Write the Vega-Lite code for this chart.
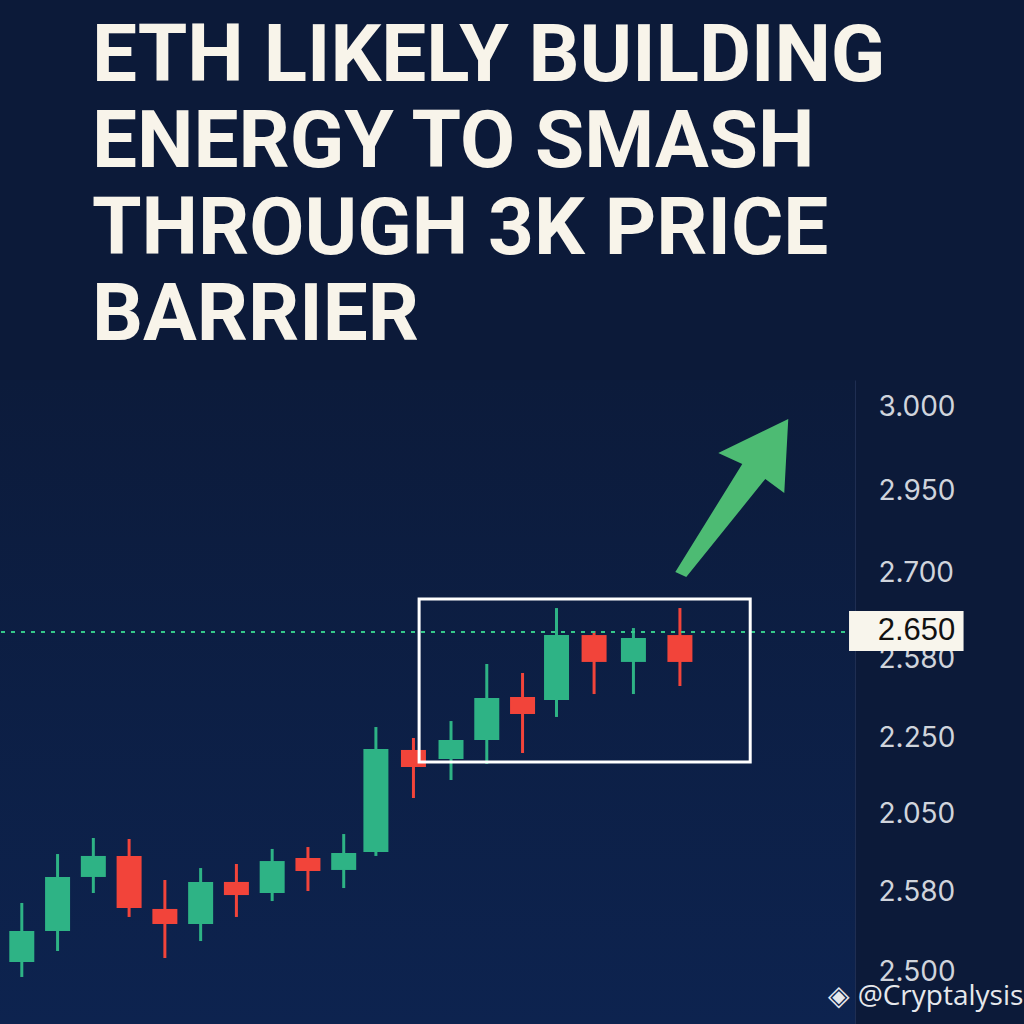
{
  "$schema": "https://vega.github.io/schema/vega-lite/v6.json",
  "autosize": "none",
  "width": 855,
  "height": 644,
  "padding": {"left": 0, "top": 380, "right": 169, "bottom": 0},
  "background": "#0c1a39",
  "title": {
    "text": ["ETH LIKELY BUILDING", "ENERGY TO SMASH", "THROUGH 3K PRICE", "BARRIER"],
    "anchor": "start",
    "frame": "group",
    "orient": "top",
    "dx": 92,
    "offset": 23,
    "font": "Roboto",
    "fontWeight": "bold",
    "fontSize": 80,
    "lineHeight": 86.5,
    "color": "#f8f4ea"
  },
  "config": {
    "view": {"stroke": null},
    "axis": {"gridColor": "#1f2e52", "gridWidth": 1, "domainColor": "#1f2e52"}
  },
  "datasets": {
    "candles": [
      {"t": 1, "open": 2508.9, "close": 2536.3, "high": 2561.1, "low": 2495.6, "dir": "up"},
      {"t": 2, "open": 2536.3, "close": 2584.1, "high": 2604.4, "low": 2518.6, "dir": "up"},
      {"t": 3, "open": 2584.1, "close": 2602.7, "high": 2618.6, "low": 2569.9, "dir": "up"},
      {"t": 4, "open": 2602.7, "close": 2556.6, "high": 2617.7, "low": 2548.7, "dir": "down"},
      {"t": 5, "open": 2555.8, "close": 2542.5, "high": 2581.4, "low": 2512.4, "dir": "down"},
      {"t": 6, "open": 2542.5, "close": 2579.7, "high": 2592.0, "low": 2527.4, "dir": "up"},
      {"t": 7, "open": 2579.7, "close": 2568.1, "high": 2595.6, "low": 2548.7, "dir": "down"},
      {"t": 8, "open": 2569.9, "close": 2598.2, "high": 2608.9, "low": 2562.8, "dir": "up"},
      {"t": 9, "open": 2600.9, "close": 2589.4, "high": 2610.6, "low": 2571.7, "dir": "down"},
      {"t": 10, "open": 2590.3, "close": 2605.3, "high": 2622.1, "low": 2574.3, "dir": "up"},
      {"t": 10.9, "open": 2606.2, "close": 2697.4, "high": 2716.8, "low": 2602.7, "dir": "up"},
      {"t": 11.95, "open": 2696.5, "close": 2681.4, "high": 2707.1, "low": 2654.0, "dir": "down"},
      {"t": 13, "open": 2688.5, "close": 2705.3, "high": 2722.1, "low": 2669.9, "dir": "up"},
      {"t": 14, "open": 2705.3, "close": 2742.5, "high": 2772.6, "low": 2684.1, "dir": "up"},
      {"t": 15, "open": 2743.4, "close": 2728.3, "high": 2764.6, "low": 2693.8, "dir": "down"},
      {"t": 15.95, "open": 2740.7, "close": 2798.2, "high": 2822.1, "low": 2725.7, "dir": "up"},
      {"t": 17, "open": 2798.2, "close": 2774.4, "high": 2801.8, "low": 2746.0, "dir": "down"},
      {"t": 18.1, "open": 2774.4, "close": 2795.6, "high": 2804.4, "low": 2746.0, "dir": "up"},
      {"t": 19.4, "open": 2798.2, "close": 2774.4, "high": 2822.1, "low": 2753.1, "dir": "down"}
    ]
  },
  "layer": [
    {
      "data": {"values": [{"top": 3023.9, "bottom": 2454}]},
      "mark": {"type": "rect", "color": {"gradient": "linear", "x1": 0, "y1": 0, "x2": 0, "y2": 1, "stops": [{"offset": 0, "color": "#0c1b3b"}, {"offset": 1, "color": "#0d234f"}]}},
      "encoding": {
        "y": {"field": "top", "type": "quantitative", "scale": {"domain": [2453.98, 3023.92], "nice": false, "zero": false},
          "axis": {
            "orient": "right", "title": null, "ticks": false, "labelPadding": 23, "labelAlign": "left",
            "labelFont": "Inter", "labelFontSize": 28, "labelColor": "#d0d4dc",
            "grid": true, "domain": true,
            "values": [3000, 2925, 2853, 2777, 2707, 2639, 2570, 2500],
            "labelExpr": "datum.value == 3000 ? '3.000' : datum.value == 2925 ? '2.950' : datum.value == 2853 ? '2.700' : datum.value == 2777 ? '2.580' : datum.value == 2707 ? '2.250' : datum.value == 2639 ? '2.050' : datum.value == 2570 ? '2.580' : '2.500'"
          }},
        "y2": {"field": "bottom"}
      }
    },
    {
      "data": {"name": "candles"},
      "mark": {"type": "rule", "strokeWidth": 3},
      "encoding": {
        "x": {"field": "t", "type": "quantitative", "scale": {"domain": [0.5303, 24.155], "nice": false, "zero": false},
          "axis": {"orient": "bottom", "title": null, "labels": false, "ticks": false, "domain": false, "grid": true, "values": [3.487, 9.262, 15.09, 21.31]}},
        "y": {"field": "low", "type": "quantitative"},
        "y2": {"field": "high"},
        "color": {"field": "dir", "type": "nominal", "scale": {"domain": ["up", "down"], "range": ["#2eb385", "#f2443a"]}, "legend": null}
      }
    },
    {
      "data": {"name": "candles"},
      "mark": {"type": "bar", "size": 25},
      "encoding": {
        "x": {"field": "t", "type": "quantitative"},
        "y": {"field": "open", "type": "quantitative"},
        "y2": {"field": "close"},
        "color": {"field": "dir", "type": "nominal", "legend": null}
      }
    },
    {
      "data": {"values": [{"level": 2801}]},
      "mark": {"type": "rule", "color": "#35c98b", "strokeWidth": 2, "strokeDash": [4, 6]},
      "encoding": {"y": {"field": "level", "type": "quantitative"}}
    },
    {
      "data": {"values": [{"x1": 12.108, "x2": 21.365, "y1": 2830.1, "y2": 2685.9}]},
      "mark": {"type": "rect", "fillOpacity": 0, "stroke": "#ffffff", "strokeWidth": 3},
      "encoding": {
        "x": {"field": "x1", "type": "quantitative"},
        "x2": {"field": "x2"},
        "y": {"field": "y1", "type": "quantitative"},
        "y2": {"field": "y2"}
      }
    },
    {
      "data": {"values": [{"t": 20.85, "v": 2919.5}]},
      "mark": {"type": "point", "filled": true, "opacity": 1, "color": "#4dbb73", "size": 25600,
        "shape": "M0.706,-0.988L0.656,-0.063L0.419,-0.238L-0.569,0.988L-0.706,0.925L0.131,-0.425L-0.169,-0.563Z"},
      "encoding": {
        "x": {"field": "t", "type": "quantitative"},
        "y": {"field": "v", "type": "quantitative"}
      }
    },
    {
      "data": {"values": [{"x1": 24.128, "x2": 27.33, "y1": 2819.5, "y2": 2784.1}]},
      "mark": {"type": "rect", "color": "#f8f5ec", "clip": false},
      "encoding": {
        "x": {"field": "x1", "type": "quantitative"},
        "x2": {"field": "x2"},
        "y": {"field": "y1", "type": "quantitative"},
        "y2": {"field": "y2"}
      }
    },
    {
      "data": {"values": [{"t": 24.93, "v": 2801.5, "label": "2.650"}]},
      "mark": {"type": "text", "align": "left", "baseline": "middle", "font": "Liberation Sans", "fontSize": 31, "color": "#111111"},
      "encoding": {
        "x": {"field": "t", "type": "quantitative"},
        "y": {"field": "v", "type": "quantitative"},
        "text": {"field": "label"}
      }
    },
    {
      "data": {"values": [{"t": 23.55, "v": 2478.0, "label": "◈ @Cryptalysis"}]},
      "mark": {"type": "text", "align": "left", "baseline": "middle", "font": "Open Sans", "fontSize": 28, "color": "#e6e8ec"},
      "encoding": {
        "x": {"field": "t", "type": "quantitative"},
        "y": {"field": "v", "type": "quantitative"},
        "text": {"field": "label"}
      }
    }
  ]
}
